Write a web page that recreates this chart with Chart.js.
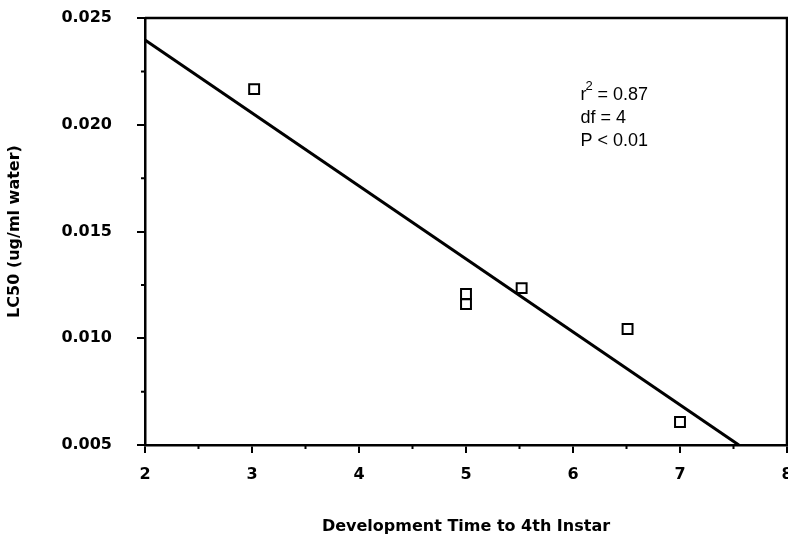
<!DOCTYPE html>
<html>
<head>
<meta charset="utf-8">
<script src="https://cdn.jsdelivr.net/npm/chart.js@4.4.1/dist/chart.umd.min.js"></script>
<style>
  body { margin: 0; background: #fff; }
  canvas { display: block; }
</style>
</head>
<body>
<canvas id="myChart" width="788" height="535"></canvas>
<script>
// data
let devTime = [3.02, 5.0, 5.0, 5.52, 6.51, 7.0]
let lc50 = [0.02167, 0.01207, 0.0116, 0.01235, 0.01043, 0.00608]

// fitted line, two ends
let fitX = [2, 7.55]
let fitY = [0.02397, 0.0050]

let xTicks = [2, 3, 4, 5, 6, 7, 8]
let yTicks = [0.005, 0.010, 0.015, 0.020, 0.025]

let statsLines = ['= 0.87', 'df = 4', 'P < 0.01']

let boldFont = { family: 'DejaVu Sans', size: 16, weight: 'bold' }

let ctx = document.getElementById('myChart').getContext('2d')

// minor ticks, frame and the r2 / df / P text
const extras = {
    id: 'extras',
    afterDraw(chart) {
        let c = chart.ctx
        let xs = chart.scales.x
        let ys = chart.scales.y
        let area = chart.chartArea
        c.save()
        c.strokeStyle = '#000'
        c.lineWidth = 2.5
        // top and right of the frame
        c.beginPath()
        c.moveTo(area.left, area.top)
        c.lineTo(area.right, area.top)
        c.lineTo(area.right, area.bottom)
        c.stroke()

        c.lineWidth = 2
        c.beginPath()
        for (let i = 0; i < xTicks.length - 1; i++) {
            let px = xs.getPixelForValue((xTicks[i] + xTicks[i + 1]) / 2)
            c.moveTo(px, area.bottom)
            c.lineTo(px, area.bottom + 4)
        }
        for (let i = 0; i < yTicks.length - 1; i++) {
            let py = ys.getPixelForValue((yTicks[i] + yTicks[i + 1]) / 2)
            c.moveTo(area.left, py)
            c.lineTo(area.left - 4, py)
        }
        c.stroke()

        // stats text
        let tx = xs.getPixelForValue(6.07)
        let ty = ys.getPixelForValue(0.0214)
        c.fillStyle = '#000'
        c.textBaseline = 'middle'
        c.textAlign = 'left'
        c.font = '18px "Liberation Sans"'
        c.fillText('r', tx, ty)
        c.fillText(statsLines[0], tx + 17, ty)
        c.fillText(statsLines[1], tx, ty + 23)
        c.fillText(statsLines[2], tx, ty + 46)
        c.font = '13px "Liberation Sans"'
        c.fillText('2', tx + 5, ty - 8)
        c.restore()
    }
}

let points = devTime.map((v, i) => ({ x: v, y: lc50[i] }))
let fitLine = fitX.map((v, i) => ({ x: v, y: fitY[i] }))

let chart = new Chart(ctx, {
    type: 'scatter',
    data: {
        datasets: [
            {
                label: 'fit',
                data: fitLine,
                showLine: true,
                borderColor: '#000',
                borderWidth: 3,
                pointRadius: 0,
                clip: false
            },
            {
                label: 'LC50',
                data: points,
                pointStyle: 'rect',
                pointRadius: 7,
                pointBorderWidth: 2,
                pointBackgroundColor: '#fff',
                pointBorderColor: '#000'
            }
        ]
    },
    options: {
        responsive: false,
        animation: false,
        layout: { autoPadding: false, padding: { top: 18, right: 1, left: 0, bottom: 0 } },
        plugins: {
            legend: { display: false },
            tooltip: { enabled: false }
        },
        scales: {
            x: {
                type: 'linear',
                min: 2,
                max: 8,
                afterBuildTicks: (s) => { s.ticks = xTicks.map(v => ({ value: v })) },
                afterFit: (s) => { s.height = 90; s.paddingLeft = 0; s.paddingRight = 0 },
                ticks: { color: '#000', font: boldFont, padding: 12, maxRotation: 0 },
                grid: { drawOnChartArea: false, drawTicks: true, tickLength: 8, color: '#000', lineWidth: 2 },
                border: { display: true, color: '#000', width: 2.5 },
                title: {
                    display: true,
                    text: 'Development Time to 4th Instar',
                    color: '#000',
                    font: { family: 'DejaVu Sans', size: 16, weight: 'bold', lineHeight: 1 },
                    padding: { top: 0, bottom: 0 }
                }
            },
            y: {
                type: 'linear',
                min: 0.005,
                max: 0.025,
                afterBuildTicks: (s) => { s.ticks = yTicks.map(v => ({ value: v })) },
                afterFit: (s) => { s.width = 145; s.paddingTop = 0; s.paddingBottom = 0 },
                ticks: { color: '#000', font: boldFont, padding: 25, callback: (v) => v.toFixed(3) },
                grid: { drawOnChartArea: false, drawTicks: true, tickLength: 8, color: '#000', lineWidth: 2 },
                border: { display: true, color: '#000', width: 2.5 },
                title: {
                    display: true,
                    text: 'LC50 (ug/ml water)',
                    color: '#000',
                    font: boldFont,
                    padding: { top: 5, bottom: 0 }
                }
            }
        }
    },
    plugins: [extras]
})
</script>
</body>
</html>
